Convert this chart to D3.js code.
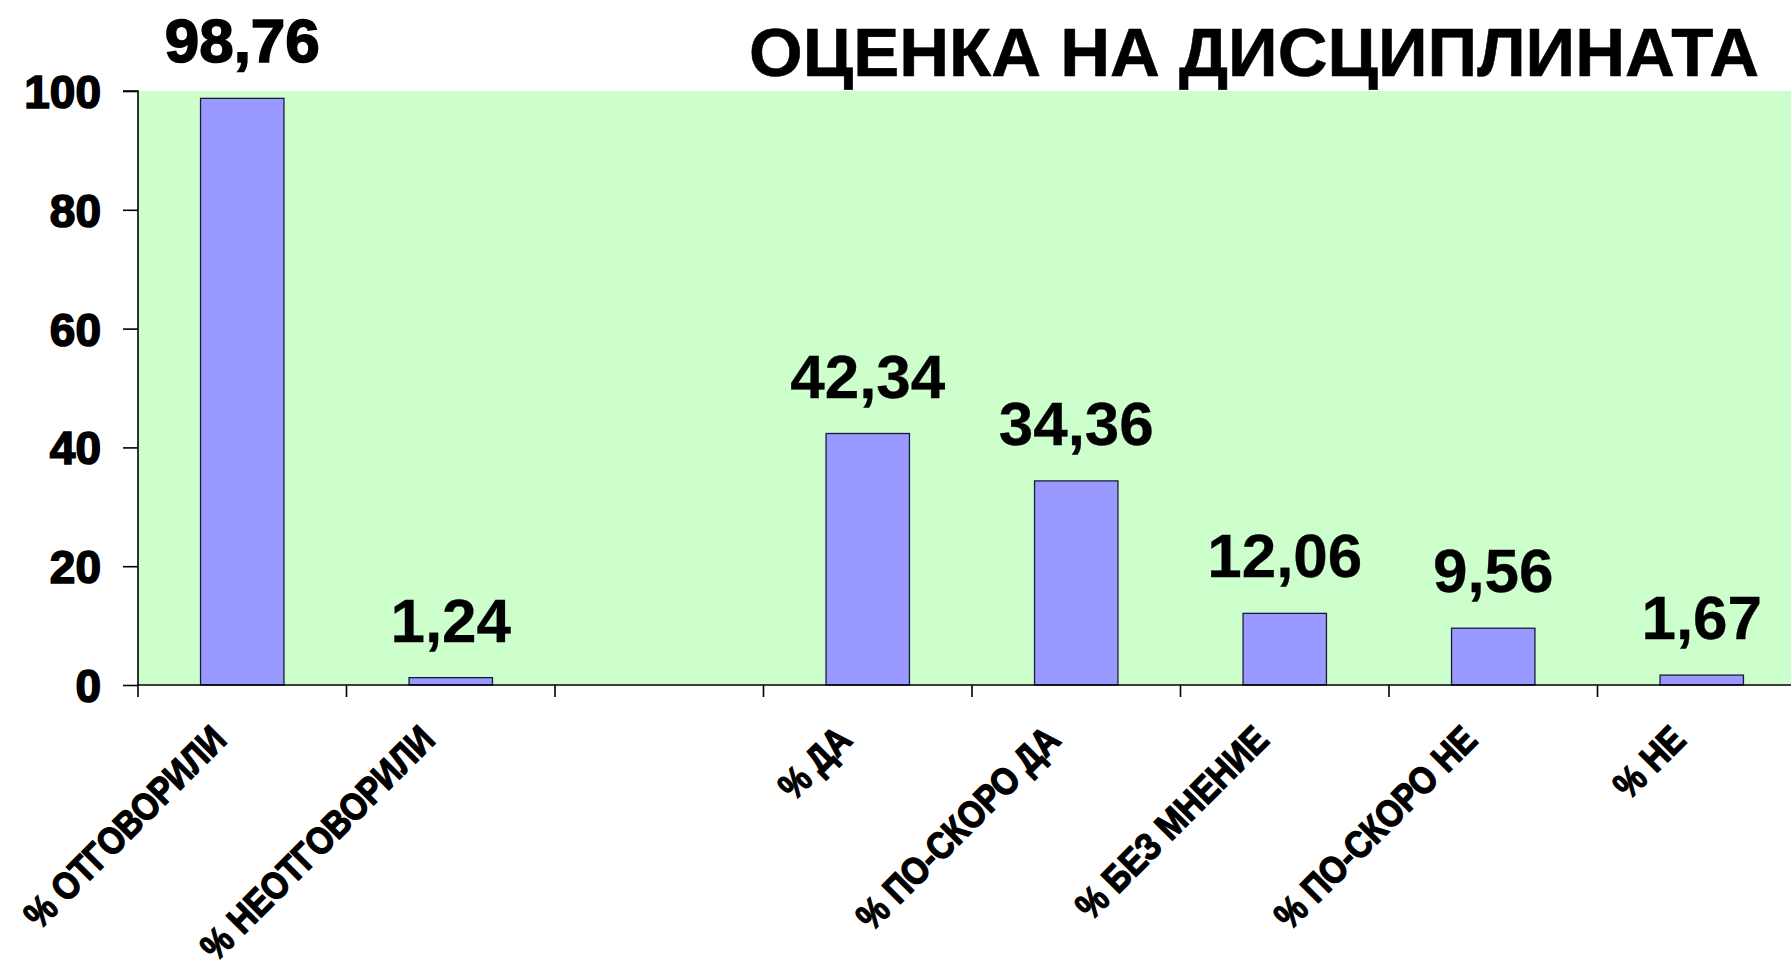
<!DOCTYPE html>
<html>
<head>
<meta charset="utf-8">
<script src="https://cdn.jsdelivr.net/npm/d3@7"></script>
<style>
  html, body { margin: 0; padding: 0; background: #ffffff; overflow: hidden; }
  svg { display: block; }
  text { font-family: "Liberation Sans", Arial, Helvetica, sans-serif; font-weight: bold; fill: #000; }
</style>
</head>
<body>
<svg id="chart" width="1791" height="970"></svg>
<script>
// ---- data ----
const categories = ["% ОТГОВОРИЛИ", "% НЕОТГОВОРИЛИ", "", "% ДА", "% ПО-СКОРО ДА", "% БЕЗ МНЕНИЕ", "% ПО-СКОРО НЕ", "% НЕ"];
const values = [98.76, 1.24, null, 42.34, 34.36, 12.06, 9.56, 1.67];
const valueLabels = ["98,76", "1,24", "", "42,34", "34,36", "12,06", "9,56", "1,67"];
const yTicks = [0, 20, 40, 60, 80, 100];
const title = "ОЦЕНКА НА ДИСЦИПЛИНАТА";

// ---- layout ----
const W = 1791, H = 970;
const plot = { left: 138, top: 91, bottom: 685, step: 208.5 };
const svg = d3.select("#chart");

const x = d3.scaleBand()
  .domain(categories.map((c, i) => i))
  .range([plot.left, plot.left + plot.step * categories.length])
  .paddingInner(0).paddingOuter(0);
const y = d3.scaleLinear().domain([0, 100]).range([plot.bottom, plot.top]);

// plot background
svg.append("rect")
  .attr("x", plot.left).attr("y", plot.top)
  .attr("width", x.range()[1] - plot.left)
  .attr("height", plot.bottom - plot.top)
  .attr("fill", "#CCFFCC");

// title
svg.append("text")
  .attr("x", 1759).attr("y", 76)
  .attr("text-anchor", "end")
  .style("font-size", "69px")
  .attr("stroke", "#000").attr("stroke-width", 0.6)
  .text(title);

// bars
const barFrac = 0.4;
const data = categories.map((c, i) => ({ i, c, v: values[i], lab: valueLabels[i] }));
svg.append("g").selectAll("rect")
  .data(data.filter(d => d.v != null))
  .join("rect")
  .attr("x", d => x(d.i) + x.bandwidth() * (1 - barFrac) / 2)
  .attr("width", x.bandwidth() * barFrac)
  .attr("y", d => y(d.v))
  .attr("height", d => y(0) - y(d.v))
  .attr("fill", "#9999FF")
  .attr("stroke", "#1a1a3a")
  .attr("stroke-width", 1.3);

// value labels
svg.append("g").selectAll("text")
  .data(data.filter(d => d.v != null))
  .join("text")
  .attr("x", d => x(d.i) + x.bandwidth() / 2)
  .attr("y", d => y(d.v) - 36)
  .attr("text-anchor", "middle")
  .style("font-size", "62px")
  .attr("stroke", "#000")
  .attr("stroke-width", (d, k) => k === 0 ? 1.6 : 0.3)
  .text(d => d.lab);

// y axis
const yAxis = d3.axisLeft(y).tickValues(yTicks).tickSize(15).tickPadding(22).tickFormat(d3.format("d"));
const gy = svg.append("g").attr("transform", `translate(${plot.left},0)`).call(yAxis);
gy.select(".domain").attr("stroke", "#000").attr("stroke-width", 1.6).attr("d", `M-15,${plot.top}H0V${plot.bottom}`);
gy.selectAll(".tick line").attr("stroke", "#000").attr("stroke-width", 1.6);
gy.selectAll(".tick text")
  .attr("dy", "0.36em")
  .style("font-size", "46px")
  .style("font-family", "'Liberation Sans', Arial, sans-serif")
  .style("font-weight", "bold")
  .attr("fill", "#000")
  .attr("stroke", "#000").attr("stroke-width", 1.6);

// x axis: line + ticks at band boundaries
const gx = svg.append("g");
gx.append("line")
  .attr("x1", plot.left).attr("x2", W)
  .attr("y1", y(0)).attr("y2", y(0))
  .attr("stroke", "#000").attr("stroke-width", 1.6);
const boundaries = categories.map((c, i) => x(i));
gx.selectAll("line.tk")
  .data(boundaries)
  .join("line")
  .attr("class", "tk")
  .attr("x1", d => d).attr("x2", d => d)
  .attr("y1", y(0)).attr("y2", y(0) + 12)
  .attr("stroke", "#000").attr("stroke-width", 1.6);

// category labels (rotated, slightly condensed, heavy)
gx.selectAll("text")
  .data(data.filter(d => d.c !== ""))
  .join("text")
  .attr("transform", d => `translate(${x(d.i) + x.bandwidth() / 2 - 14},${y(0) + 57}) rotate(-45) scale(0.86,1)`)
  .attr("text-anchor", "end")
  .style("font-size", "38px")
  .attr("stroke", "#000").attr("stroke-width", 1.4)
  .text(d => d.c);
</script>
</body>
</html>
